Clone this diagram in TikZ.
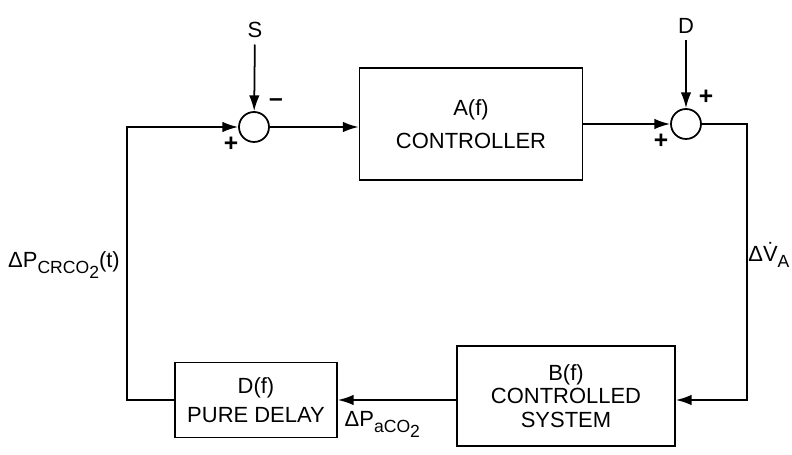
\documentclass[tikz,border=0pt]{standalone}
\usepackage{fontspec}
\setmainfont{Liberation Sans}
\usetikzlibrary{arrows.meta}

\newcommand{\lowtxt}[1]{\raisebox{-0.5ex}{\fontsize{10}{10}\selectfont #1}}

\begin{document}
\begin{tikzpicture}[x=0.02cm, y=-0.02cm, line width=1pt,
  every node/.style={font=\fontsize{12.5}{13.5}\selectfont},
  block/.style={draw, align=center, inner sep=2pt},
  summer/.style={draw, circle, minimum size=0.6cm, inner sep=0pt},
  sign/.style={font=\fontsize{14}{14}\selectfont\bfseries, inner sep=0pt},
  flow/.style={-{Latex[length=9pt, width=6pt]}}]
  \useasboundingbox (0,0) rectangle (792,455);

  % Blocks
  \node[block, minimum width=4.46cm, minimum height=2.24cm] (A) at (471,124) {A(f)\\[5pt]CONTROLLER};
  \node[block, minimum width=4.36cm, minimum height=2cm] (B) at (566,396) {B(f)\\CONTROLLED\\SYSTEM};
  \node[block, minimum width=3.24cm, minimum height=1.5cm] (D) at (256,400) {D(f)\\[3pt]PURE DELAY};

  % Summing points
  \node[summer] (sum1) at (254,127) {};
  \node[summer] (sum2) at (686,124) {};

  % Inputs
  \node (S) at (255,30) {S};
  \node (Dist) at (686,26) {D};

  % Signs
  \node[sign] (m1) at (276,103) {--};
  \node[sign] (p1) at (231,144) {+};
  \node[sign] (p2) at (706,97) {+};
  \node[sign] (p3) at (661,141) {+};

  % Connections
  \draw[flow] (S) -- (sum1);
  \draw[flow] (Dist) -- (sum2);
  \draw[flow] (sum1) -- (sum1 -| A.west);
  \draw[flow] (A) -- (sum2);
  \draw[flow] (sum2.east) -- ++(45,0) |- (B.east |- D.east);
  \draw[flow] (B.west |- D.east) -- (D.east);
  \draw[flow] (D.west) -- ++(-47,0) |- (sum1.west);

  % Signal labels
  \node[anchor=east, inner sep=1pt] (vdot) at (792,255) {Δ\.{V}\lowtxt{A}};
  \node[anchor=north west] (paco) at (338,405) {ΔP\lowtxt{aCO\lowtxt{2}}};
  \node (pcrco) at (64,265) {ΔP\lowtxt{CRCO\lowtxt{2}}(t)};
\end{tikzpicture}
\end{document}
